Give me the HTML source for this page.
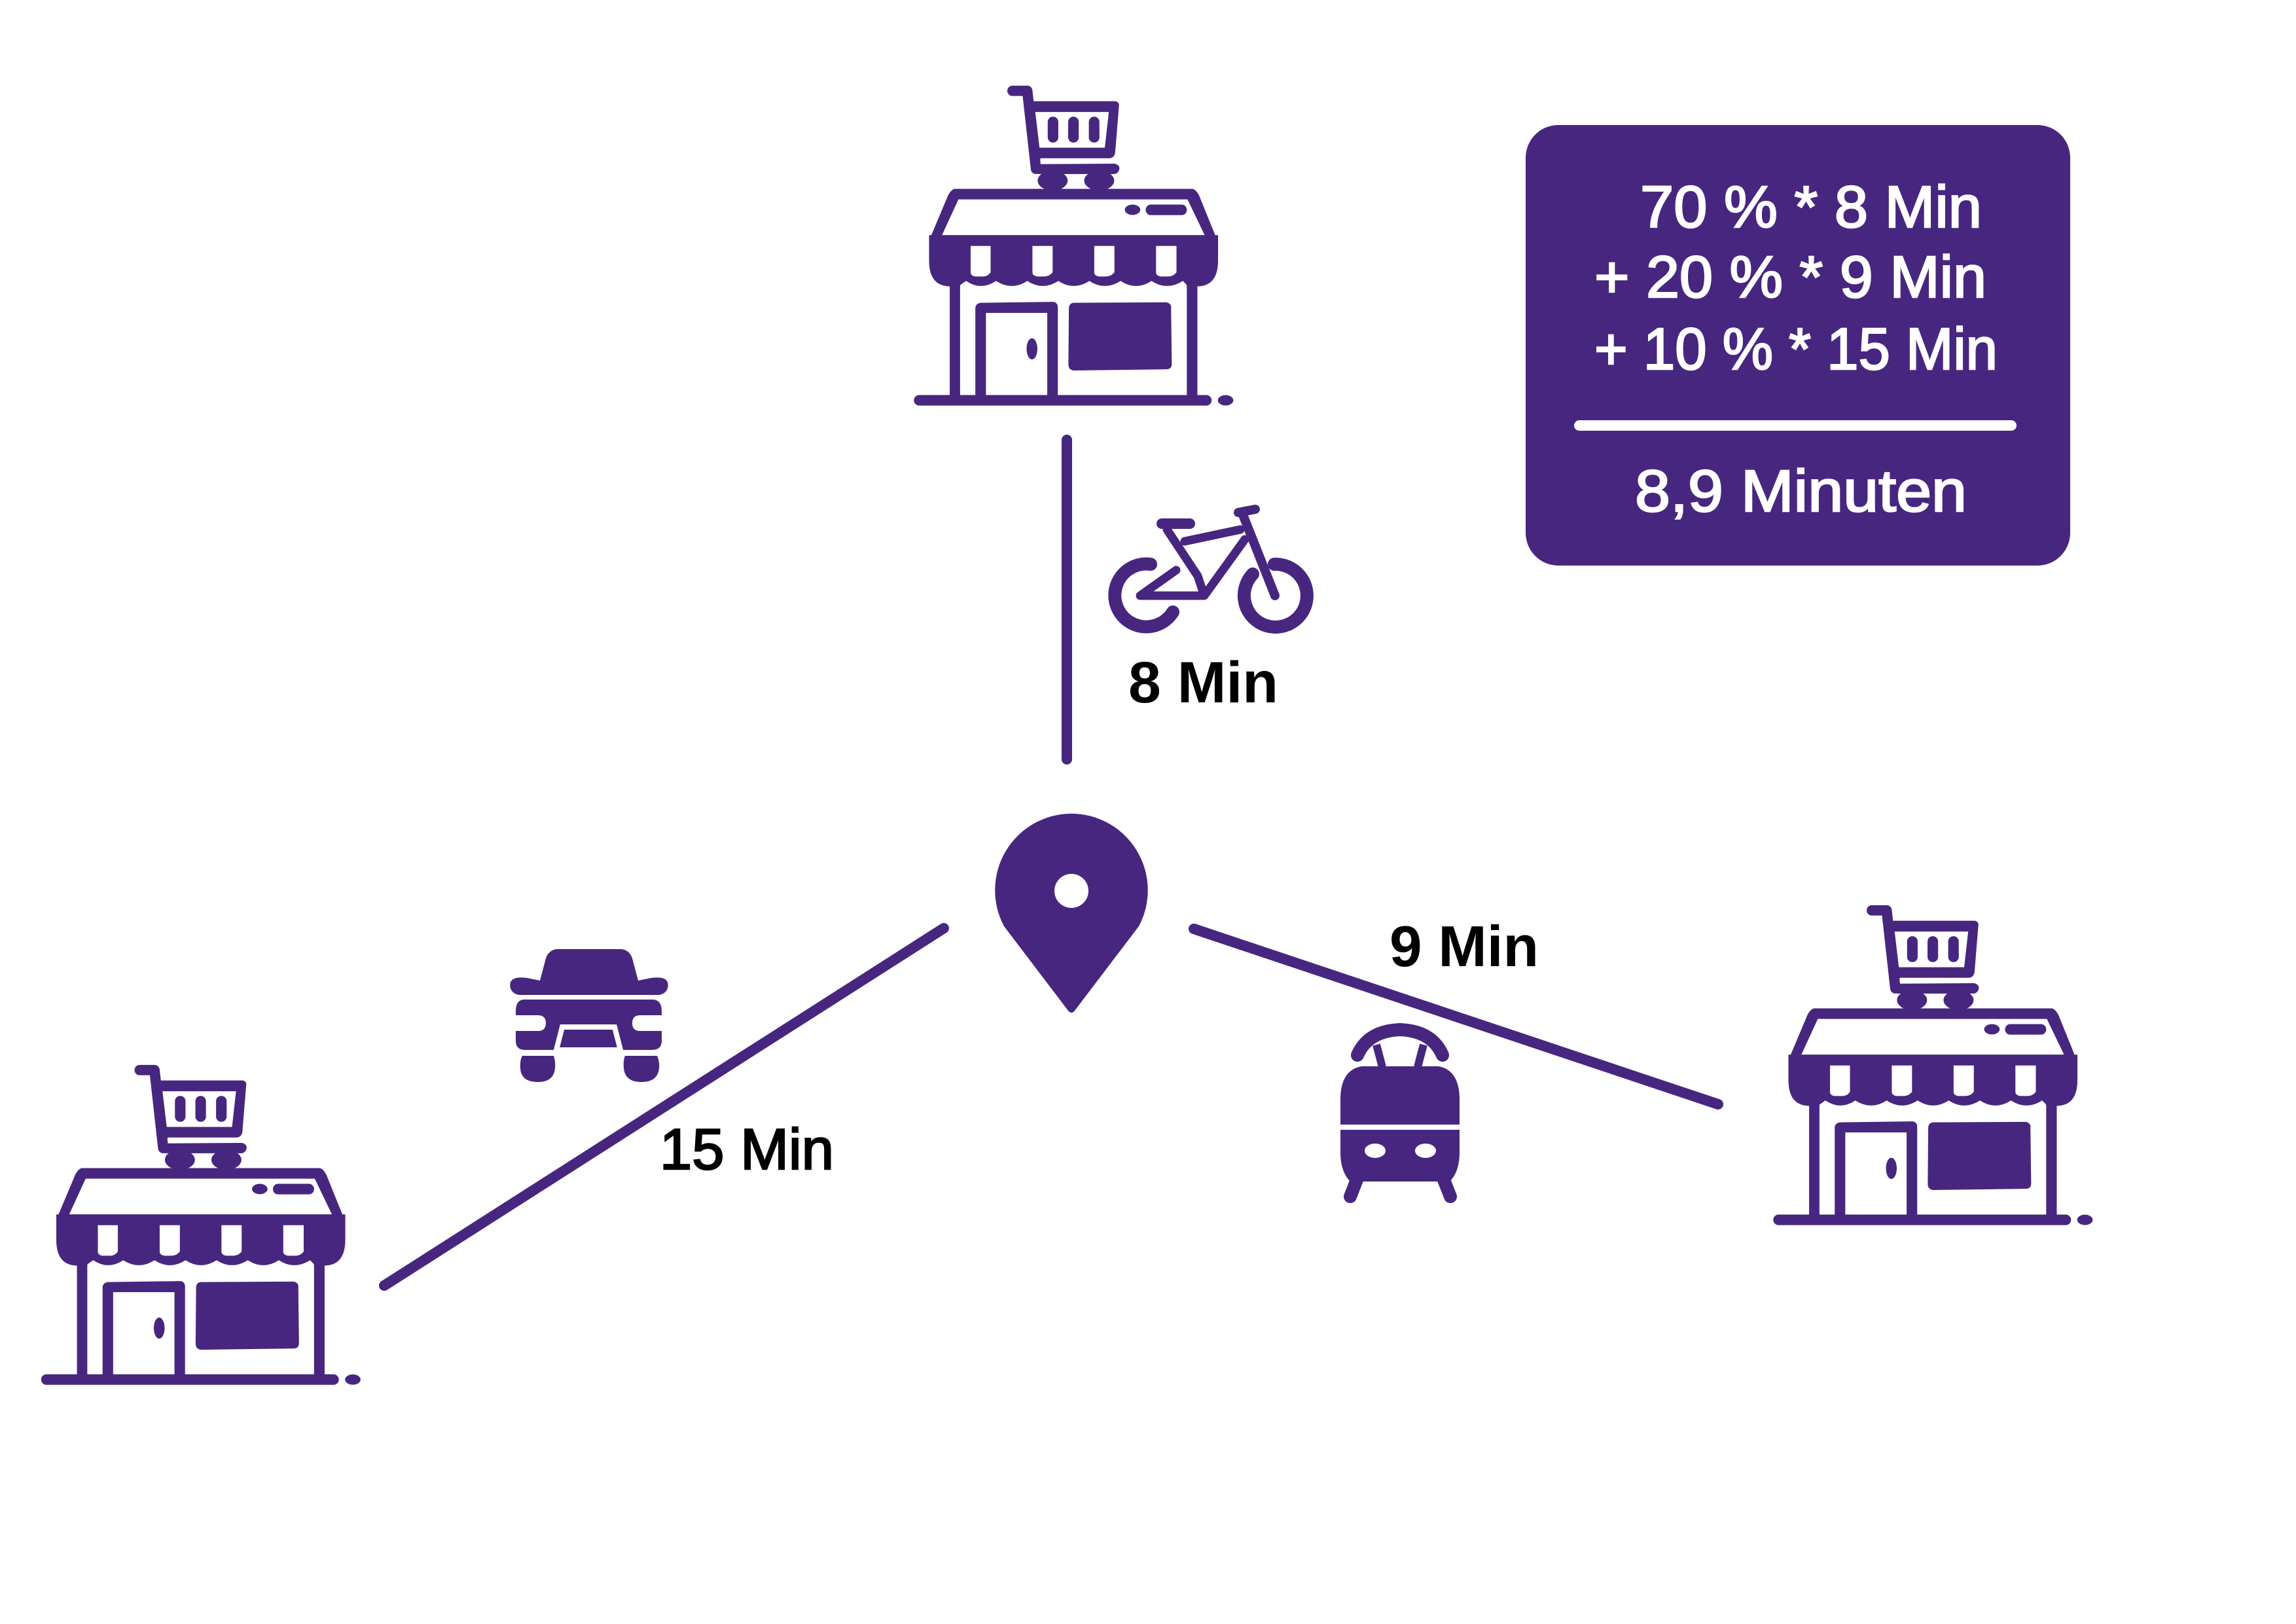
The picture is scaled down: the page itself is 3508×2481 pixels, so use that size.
<!DOCTYPE html>
<html><head><meta charset="utf-8"><style>
html,body{margin:0;padding:0;background:#fff;}
svg{display:block}
</style></head><body>
<svg width="3508" height="2481" viewBox="0 0 3508 2481" xmlns="http://www.w3.org/2000/svg">
<defs>
<g id="store">
  <path d="M465,108 L528,108 L565,440" fill="none" stroke="#472680" stroke-width="44" stroke-linecap="round" stroke-linejoin="round"/>
  <path d="M548,152 L905,152 Q922,158 918,175 L902,372 Q898,392 880,395 L585,395 L575,420 L900,418 Q922,424 920,440 Q916,460 898,462 L575,462 Q552,458 550,440 Z" fill="#472680"/>
  <path d="M562,198 L875,198 L858,350 L580,350 Z" fill="#fff"/>
  <rect x="615" y="218" width="45" height="110" rx="22" fill="#472680"/>
  <rect x="702" y="218" width="45" height="110" rx="22" fill="#472680"/>
  <rect x="790" y="218" width="45" height="110" rx="22" fill="#472680"/>
  <ellipse cx="636" cy="490" rx="64" ry="42" fill="#472680"/>
  <ellipse cx="834" cy="490" rx="64" ry="42" fill="#472680"/>
  <path d="M218,525 L1232,525 Q1248,530 1260,555 L1337,745 L110,745 L190,555 Q202,530 218,525 Z" fill="#472680"/>
  <path d="M235,570 L1210,570 L1283,722 L165,722 Z" fill="#fff"/>
  <ellipse cx="976" cy="614" rx="33" ry="22" fill="#472680"/>
  <rect x="1032" y="592" width="175" height="45" rx="22" fill="#472680"/>
  <path d="M110,722 L1340,722 L1340,830 Q1340,940 1250,940 L200,940 Q110,940 110,830 Z" fill="#472680"/>
  <path d="M242,935 Q262,920 268,917 Q330,960 395,917 Q462,960 528,917 Q594,960 660,917 Q726,960 792,917 Q858,960 925,917 Q991,960 1057,917 Q1123,960 1190,917 Q1198,924 1207,935 L1207,1000 L242,1000 Z" fill="#fff"/>
  <path d="M287,768 L372,768 L372,880 Q360,898 340,898 L305,898 Q287,895 287,880 Z" fill="#fff"/>
  <path d="M550,768 L636,768 L636,880 Q622,898 600,898 L570,898 Q550,895 550,880 Z" fill="#fff"/>
  <path d="M813,768 L899,768 L899,880 Q885,898 863,898 L833,898 Q813,895 813,880 Z" fill="#fff"/>
  <path d="M1076,768 L1163,768 L1163,880 Q1150,898 1128,898 L1096,898 Q1076,895 1076,880 Z" fill="#fff"/>
  <rect x="198" y="930" width="44" height="490" fill="#472680"/>
  <rect x="1207" y="930" width="45" height="490" fill="#472680"/>
  <path d="M330,1010 L640,1006 Q658,1010 658,1030 L658,1410 L307,1410 L307,1030 Q310,1012 330,1010 Z" fill="#472680"/>
  <rect x="352" y="1053" width="261" height="360" fill="#fff"/>
  <ellipse cx="548" cy="1206" rx="23" ry="45" fill="#472680"/>
  <path d="M725,1010 L1120,1008 Q1143,1012 1140,1035 L1143,1270 Q1143,1293 1120,1293 L725,1298 Q703,1295 703,1272 L705,1035 Q705,1012 725,1010 Z" fill="#472680"/>
  <line x1="68" y1="1425" x2="1290" y2="1425" stroke="#472680" stroke-width="45" stroke-linecap="round"/>
  <ellipse cx="1372" cy="1425" rx="33" ry="22" fill="#472680"/>
</g>
</defs>

<g transform="translate(1380,100) scale(0.359)"><use href="#store"/></g>
<g transform="translate(46.5,1596) scale(0.359)"><use href="#store"/></g>
<g transform="translate(2693,1352) scale(0.359)"><use href="#store"/></g>

<g stroke="#472680" stroke-width="16" stroke-linecap="round" fill="none">
  <line x1="1630" y1="672" x2="1630" y2="1160"/>
  <line x1="1442" y1="1418" x2="587" y2="1964"/>
  <line x1="1824" y1="1419" x2="2625" y2="1687"/>
</g>

<path d="M1637,1243 A117,117 0 0 1 1740,1415 L1642,1544 Q1637,1550 1632,1544 L1534,1415 A117,117 0 0 1 1637,1243 Z" fill="#472680"/>
<circle cx="1637" cy="1361" r="26" fill="#fff"/>

<g fill="none" stroke="#472680" stroke-linecap="round" stroke-linejoin="round">
  <path d="M1758,862 A48,48 0 1 0 1792,935" stroke-width="20"/>
  <path d="M1947,862 A48,48 0 1 1 1914,877" stroke-width="20"/>
  <path d="M1742,910 L1840,910 L1902,824 M1742,910 L1797,871 M1810,827 L1895,809 M1783,809 L1830,880 L1840,910" stroke-width="13"/>
  <path d="M1900,789 L1948,910" stroke-width="14"/>
  <path d="M1892,783 L1918,778" stroke-width="14"/>
  <path d="M1775,800 L1818,800" stroke-width="16"/>
</g>

<g fill="#472680">
  <path d="M850,1450 L950,1450 Q962,1452 966,1464 L975,1498 L995,1494 Q1025,1490 1020,1510 Q1016,1520 1004,1520 L796,1520 Q784,1520 780,1510 Q775,1490 805,1494 L825,1498 L834,1464 Q838,1452 850,1450 Z"/>
  <path d="M800,1527 L998,1527 Q1011,1528 1011,1545 L1011,1551 L978,1551 Q966,1551 966,1563 Q966,1575 978,1575 L1011,1575 L1011,1590 Q1011,1604 996,1604 L802,1604 Q788,1604 788,1590 L788,1575 L822,1575 Q834,1575 834,1563 Q834,1551 822,1551 L788,1551 L788,1545 Q788,1528 800,1527 Z"/>
  <path d="M859,1569 L939,1569 L948,1604 L850,1604 Z" stroke="#fff" stroke-width="8"/>
  <path d="M798,1613 L846,1613 Q849,1622 848,1632 Q846,1653 822,1653 Q796,1653 795,1632 Q794,1620 798,1613 Z"/>
  <path d="M955,1613 L1004,1613 Q1008,1622 1007,1632 Q1005,1653 980,1653 Q955,1653 953,1632 Q952,1620 955,1613 Z"/>
</g>

<g>
  <path d="M2080,1629 L2198,1629 Q2230,1635 2230,1680 L2230,1760 Q2230,1790 2215,1805 L2063,1805 Q2048,1790 2048,1760 L2048,1680 Q2048,1635 2080,1629 Z" fill="#472680"/>
  <rect x="2046" y="1718" width="186" height="8" fill="#fff"/>
  <ellipse cx="2101" cy="1758" rx="16" ry="11" fill="#fff"/>
  <ellipse cx="2178" cy="1758" rx="16" ry="11" fill="#fff"/>
  <path d="M2074,1612 Q2090,1575 2139,1573 Q2188,1575 2204,1612" fill="none" stroke="#472680" stroke-width="20" stroke-linecap="round"/>
  <path d="M2112,1630 L2103,1596 M2166,1630 L2175,1596" stroke="#472680" stroke-width="12"/>
  <path d="M2074,1800 L2063,1828 M2205,1800 L2216,1828" stroke="#472680" stroke-width="20" stroke-linecap="round"/>
</g>

<g font-family="'Liberation Sans', sans-serif" fill="#000">
  <text x="1724" y="1073" font-size="89" font-weight="bold" textLength="229" lengthAdjust="spacingAndGlyphs">8 Min</text>
  <text x="2123" y="1476" font-size="88" font-weight="bold" textLength="228" lengthAdjust="spacingAndGlyphs">9 Min</text>
  <text x="1008" y="1786" font-size="88" stroke="#000" stroke-width="2.5" textLength="266" lengthAdjust="spacingAndGlyphs">15 Min</text>
</g>

<rect x="2331" y="191" width="832" height="673" rx="50" fill="#472680"/>
<g font-family="'Liberation Sans', sans-serif" fill="#fff" stroke="#fff" stroke-width="2.5" font-size="90">
  <text x="2506" y="347" textLength="522" lengthAdjust="spacingAndGlyphs">70 % * 8 Min</text>
  <text x="2436" y="454" textLength="599" lengthAdjust="spacingAndGlyphs">+ 20 % * 9 Min</text>
  <text x="2436" y="564" textLength="616" lengthAdjust="spacingAndGlyphs">+ 10 % * 15 Min</text>
  <text x="2498" y="781" textLength="507" lengthAdjust="spacingAndGlyphs">8,9 Minuten</text>
</g>
<line x1="2413" y1="650" x2="3073" y2="650" stroke="#fff" stroke-width="16" stroke-linecap="round"/>
</svg>
</body></html>
